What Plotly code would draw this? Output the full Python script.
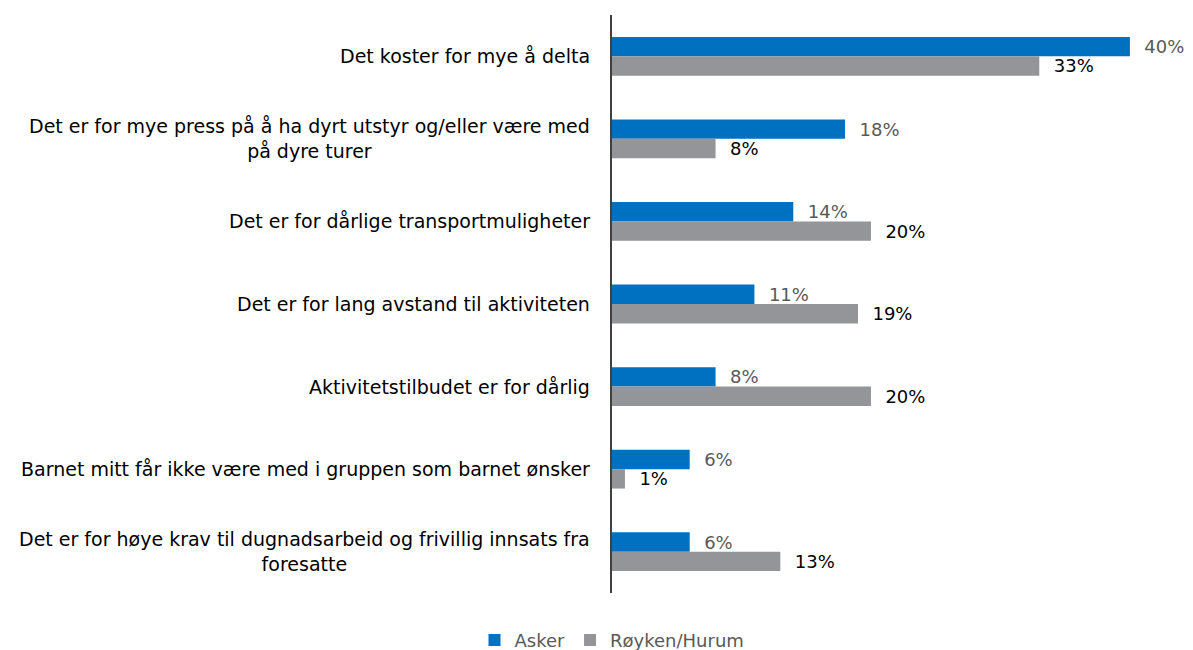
import plotly.graph_objects as go

categories = [
    "Det koster for mye å delta",
    "Det er for mye press på å ha dyrt utstyr og/eller være med<br>på dyre turer",
    "Det er for dårlige transportmuligheter",
    "Det er for lang avstand til aktiviteten",
    "Aktivitetstilbudet er for dårlig",
    "Barnet mitt får ikke være med i gruppen som barnet ønsker",
    "Det er for høye krav til dugnadsarbeid og frivillig innsats fra<br>foresatte",
]
asker = [40, 18, 14, 11, 8, 6, 6]
royken = [33, 8, 20, 19, 20, 1, 13]

FONT = "DejaVu Sans"
BLUE = "#0070C0"
GRAY = "#939598"

fig = go.Figure()
fig.add_trace(go.Bar(
    y=categories, x=asker, orientation="h", name="Asker",
    marker=dict(color=BLUE, line=dict(width=0)),
    text=[f"\u00a0\u00a0{v}%" for v in asker], textposition="outside",
    constraintext="none",
    textfont=dict(family=FONT, size=18, color="#595959"), cliponaxis=False,
))
fig.add_trace(go.Bar(
    y=categories, x=royken, orientation="h", name="Røyken/Hurum",
    marker=dict(color=GRAY, line=dict(width=0)),
    text=[f"\u00a0\u00a0{v}%" for v in royken], textposition="outside",
    constraintext="none",
    textfont=dict(family=FONT, size=18, color="#000000"), cliponaxis=False,
))

for i, c in enumerate(categories):
    fig.add_annotation(
        x=0, xref="paper", y=i, yref="y", text=c, showarrow=False,
        xanchor="right", xshift=-20, align="center",
        font=dict(family=FONT, size=19, color="#000000"),
    )

fig.update_layout(
    width=1193, height=650,
    margin=dict(l=604, r=18, t=7, b=65, autoexpand=False),
    paper_bgcolor="white", plot_bgcolor="white",
    barmode="group", bargap=0.53, bargroupgap=0,
    showlegend=True,
    legend=dict(orientation="h", x=0.0, xanchor="center",
                y=-0.05, yanchor="top",
                font=dict(family=FONT, size=18, color="#595959")),
)
fig.update_xaxes(range=[0, 44.1], showticklabels=False, ticks="", showline=False,
                 showgrid=False, zeroline=False)
fig.update_yaxes(type="category", categoryorder="array", categoryarray=categories,
                 range=[6.5, -0.5], showticklabels=False, ticks="",
                 showgrid=False, zeroline=False, showline=True,
                 linecolor="#404040", linewidth=1.5)

fig.write_html("out.html")
